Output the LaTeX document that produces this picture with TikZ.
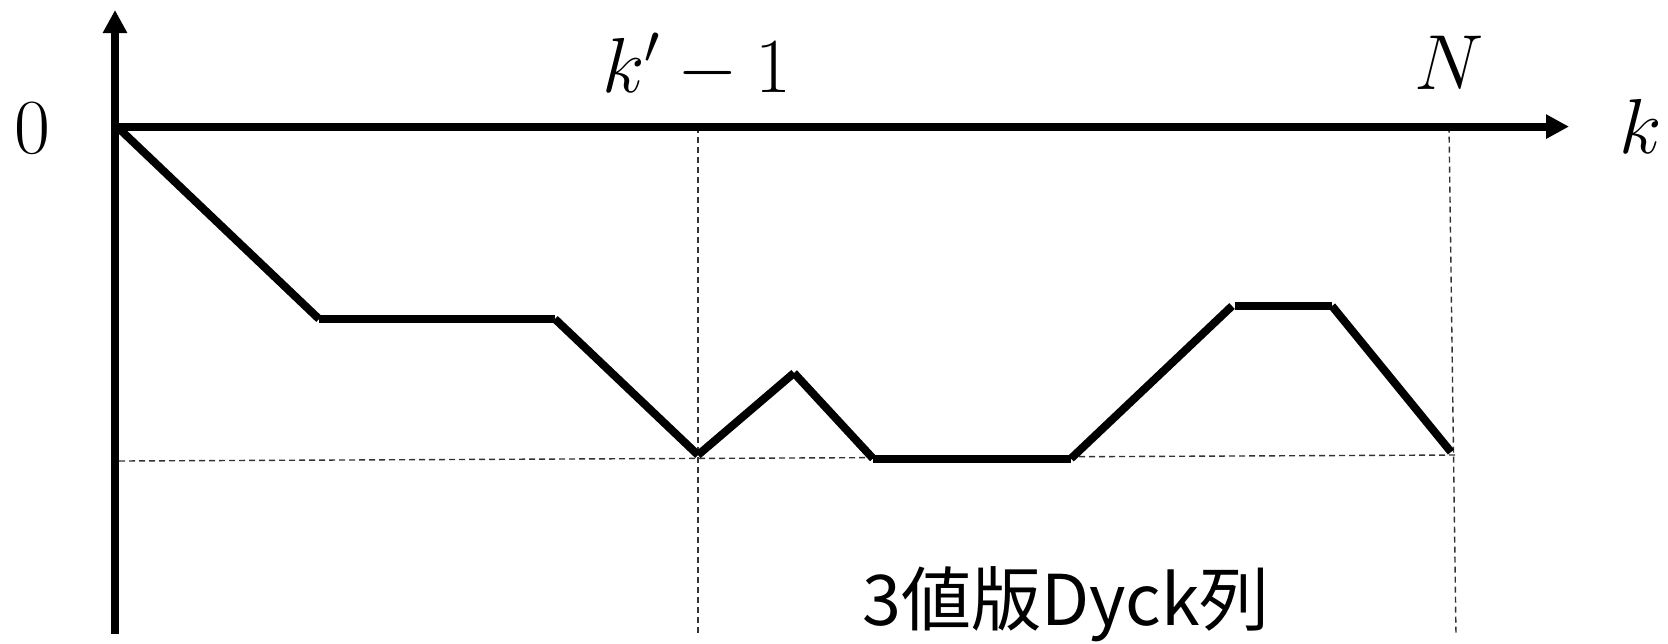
\RequirePackage{fix-cm}
\documentclass[tikz,border=0pt]{standalone}
\usepackage{fontspec}
\newfontfamily\cjkfont{Noto Sans CJK JP}
\usetikzlibrary{arrows.meta}
\begin{document}
\begin{tikzpicture}[x=0.5pt,y=-0.5pt,
  axis/.style={line width=4pt,-{Triangle[length=11.5pt,width=11.5pt]}},
  seg/.style={line width=4pt,line cap=butt},
  guide/.style={line width=0.7pt,dash pattern=on 3pt off 2pt,black!80},
  lab/.style={inner sep=0pt,font=\fontsize{39}{42}\selectfont}]
\useasboundingbox (0,0) rectangle (1668,643);
% guides
\coordinate (o) at (115,126.6);
\coordinate (ktop) at (698,126.6);
\coordinate (kbot) at (698,636);
\coordinate (ntop) at (1449,126.6);
\coordinate (nbot) at (1456,636);
\coordinate (hl) at (119,461);
\coordinate (hr) at (1456,455);
\draw[guide] (ktop) -- (kbot);
\draw[guide] (ntop) -- (nbot);
\draw[guide] (hl) -- (hr);
% axes
\coordinate (ybot) at (115,634);
\coordinate (ytop) at (115,10);
\coordinate (xend) at (1569,126.6);
\draw[axis] (ybot) -- (ytop);
\draw[axis] (o) -- (xend);
% path
\coordinate (p0) at (117,126.6);
\coordinate (p1) at (319,319);
\coordinate (p2) at (555,319);
\coordinate (p3) at (698,455);
\coordinate (p4) at (794,373);
\coordinate (p5) at (873,458.5);
\coordinate (p6) at (1071,458.5);
\coordinate (p7) at (1232,306);
\coordinate (p8) at (1235,306);
\coordinate (p9) at (1332,306);
\coordinate (p10) at (1451,452);
\foreach \a/\b in {p0/p1,p1/p2,p2/p3,p3/p4,p4/p5,p5/p6,p6/p7,p8/p9,p9/p10}
  \draw[seg] (\a) -- (\b);
% labels
\node[lab] (zero) at (32,128) {$0$};
\node[lab] (klab) at (1641,126) {$k$};
\node[lab] (nlab) at (1449,63) {$N$};
\node[lab] (kp) at (697,66) {$k'-1$};
\node[inner sep=0pt,font=\fontsize{35}{39}\selectfont\cjkfont] (title) at (1066,604) {3値版Dyck列};
\end{tikzpicture}
\end{document}
